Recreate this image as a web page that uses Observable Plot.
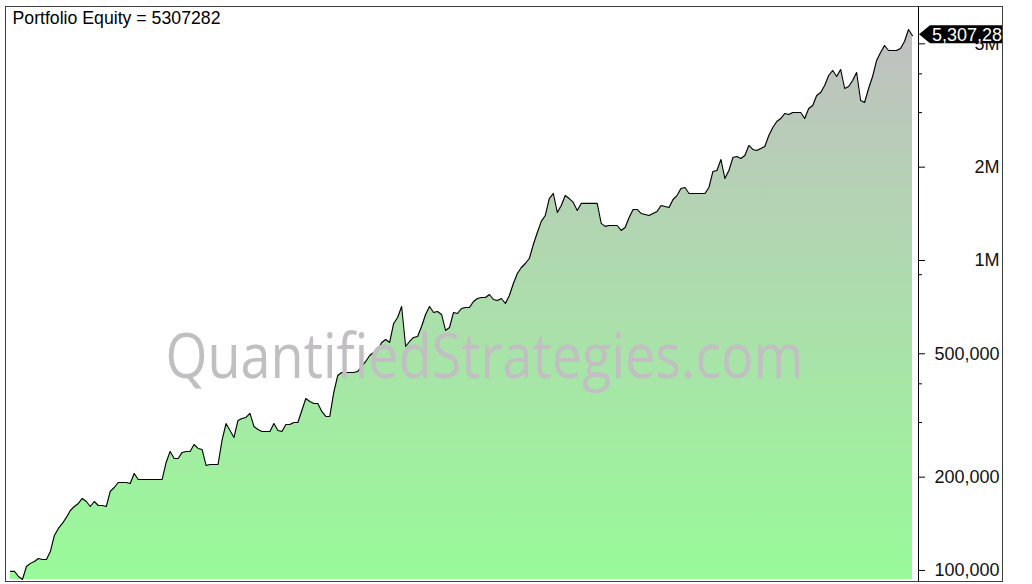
<!DOCTYPE html>
<html><head><meta charset="utf-8">
<script src="https://cdn.jsdelivr.net/npm/d3@7"></script>
<script src="https://cdn.jsdelivr.net/npm/@observablehq/plot@0.6"></script>
<style>
html,body{margin:0;padding:0;background:#fff;}
#wrap{position:relative;width:1032px;height:584px;overflow:hidden;}
#chart{position:absolute;left:0;top:0;}
#frame{position:absolute;left:5px;top:6px;width:996px;height:574px;border:1px solid #404040;pointer-events:none;}
</style></head><body>
<div id="wrap"><div id="chart"></div><div id="frame"></div></div>
<script>
// Portfolio equity, equally spaced bars
const equity = [
99300, 99300, 95600, 93500, 103000, 105400, 106900, 109300, 108500, 108500,
115200, 129700, 136600, 141800, 148300, 156100, 160800, 164500, 170700, 166900,
160800, 166900, 162000, 162000, 160800, 179900, 185200, 192200, 192200, 192200,
190800, 205500, 196600, 196600, 196600, 196600, 196600, 196600, 196600, 223000,
242100, 229800, 229800, 240300, 242100, 242100, 254900, 247500, 245600, 218100,
219700, 219700, 219700, 262600, 297900, 282800, 268500, 304700, 309300, 311600,
321000, 291300, 284900, 280700, 280700, 280700, 297900, 282800, 280700, 295700,
295700, 300200, 300200, 328200, 358800, 350900, 345800, 345800, 325800, 313900,
313900, 375200, 425600, 435300, 435300, 435300, 435300, 438600, 455000, 472300,
493700, 504900, 512400, 543900, 556000, 543900, 626300, 654800, 710500, 527900,
547900, 564400, 568600, 612500, 669600, 710500, 679600, 684600, 669600, 594500,
607900, 679600, 674600, 700000, 705300, 705300, 737500, 753900, 759600, 759600,
776700, 748400, 742800, 753900, 726600, 771000, 842900, 907900, 949200, 977900,
1015000, 1126000, 1231000, 1337000, 1397000, 1584000, 1645000, 1429000, 1505000, 1620000,
1584000, 1539000, 1450000, 1528000, 1528000, 1528000, 1528000, 1528000, 1317000, 1288000,
1297000, 1297000, 1297000, 1250000, 1278000, 1376000, 1461000, 1461000, 1418000, 1408000,
1397000, 1418000, 1439000, 1505000, 1494000, 1483000, 1573000, 1620000, 1707000, 1720000,
1645000, 1645000, 1645000, 1645000, 1645000, 1720000, 1937000, 1951000, 2117000, 1838000,
1951000, 2148000, 2164000, 2133000, 2181000, 2350000, 2281000, 2264000, 2298000, 2332000,
2530000, 2685000, 2808000, 2870000, 2979000, 2957000, 3002000, 3002000, 3002000, 2870000,
3093000, 3162000, 3406000, 3484000, 3669000, 3951000, 4101000, 3922000, 4132000, 3588000,
3642000, 3807000, 4041000, 3282000, 3234000, 3588000, 3922000, 4417000, 4688000, 4937000,
4757000, 4757000, 4757000, 4829000, 5086000, 5560000, 5307282
];
const majorTicks = [100000, 200000, 500000, 1000000, 2000000, 5000000];
const tickLabels = ["100,000", "200,000", "500,000", "1M", "2M", "5M"];
const minorTicks = [300000, 400000, 900000, 3000000, 4000000];
const yDomain = [93500, 6500000];
const titleLabel = "Portfolio Equity";
const watermark = "QuantifiedStrategies.com";

const n = equity.length;
const last = equity[n - 1];
const xEnd = n - 1 + 1.5; // blank bars to the right of the last bar

const plot = Plot.plot({
  width: 1032, height: 584,
  marginLeft: 10, marginRight: 114, marginTop: 6, marginBottom: 2,
  insetTop: 2, insetBottom: 3,
  style: {fontFamily: "'Liberation Sans', Arial, sans-serif", fontSize: "18px", color: "#000", background: "transparent", overflow: "visible"},
  x: {domain: [0, xEnd], axis: null},
  y: {type: "log", domain: yDomain, label: null},
  marks: [
    () => {
      const defs = d3.create("svg:defs");
      const g = defs.append("linearGradient").attr("id", "eqGrad")
        .attr("x1", 0).attr("y1", 0).attr("x2", 0).attr("y2", 1);
      g.append("stop").attr("offset", "0%").attr("stop-color", "#c0c0c0");
      g.append("stop").attr("offset", "100%").attr("stop-color", "#98fb98");
      defs.append("clipPath").attr("id", "lblClip").append("rect")
        .attr("x", 0).attr("y", 0).attr("width", 1002).attr("height", 584);
      return defs.node();
    },
    Plot.areaY(equity, {x: (d, i) => i, y1: yDomain[0], y2: d => d, fill: "url(#eqGrad)"}),
    Plot.lineY(equity, {x: (d, i) => i, y: d => d, stroke: "#000", strokeWidth: 1.1}),
    Plot.text([watermark], {frameAnchor: "middle", dx: 20, dy: 64, fontSize: 62, fill: "#c1bfc2",
      fontFamily: "'Open Sans', sans-serif"}),
    Plot.ruleX([xEnd], {stroke: "#000"}),
    Plot.axisY(minorTicks, {anchor: "right", tickSize: 3, tickFormat: () => "", label: null}),
    Plot.axisY(majorTicks, {anchor: "right", tickSize: 6, tickPadding: 75, textAnchor: "end",
      tickFormat: d => tickLabels[majorTicks.indexOf(d)], fontSize: 18, fill: "#111", label: null}),
    Plot.text([`${titleLabel} = ${Math.round(last)}`], {frameAnchor: "top-left", lineAnchor: "top",
      dx: 2, dy: 5, fontSize: 17.7, fill: "#000"}),
    (index, scales) => {
      const y0 = scales.y(last);
      const x0 = scales.x(xEnd);
      const g = d3.create("svg:g").attr("clip-path", "url(#lblClip)");
      g.append("path")
        .attr("d", `M${x0 + 1},${y0 - 1} L${x0 + 12},${y0 - 10} H1040 V${y0 + 8} H${x0 + 12} Z`)
        .attr("fill", "#000");
      g.append("text").attr("x", x0 + 14).attr("y", y0 - 1).attr("dy", "0.36em")
        .attr("text-anchor", "start")
        .attr("fill", "#fff").attr("font-size", 18)
        .text(d3.format(",")(last));
      return g.node();
    }
  ]
});
plot.querySelectorAll("text").forEach(t => {
  if (t.textContent === watermark) {
    t.setAttribute("textLength", 638);
    t.setAttribute("lengthAdjust", "spacingAndGlyphs");
  }
});
document.getElementById("chart").appendChild(plot);
</script>
</body></html>
